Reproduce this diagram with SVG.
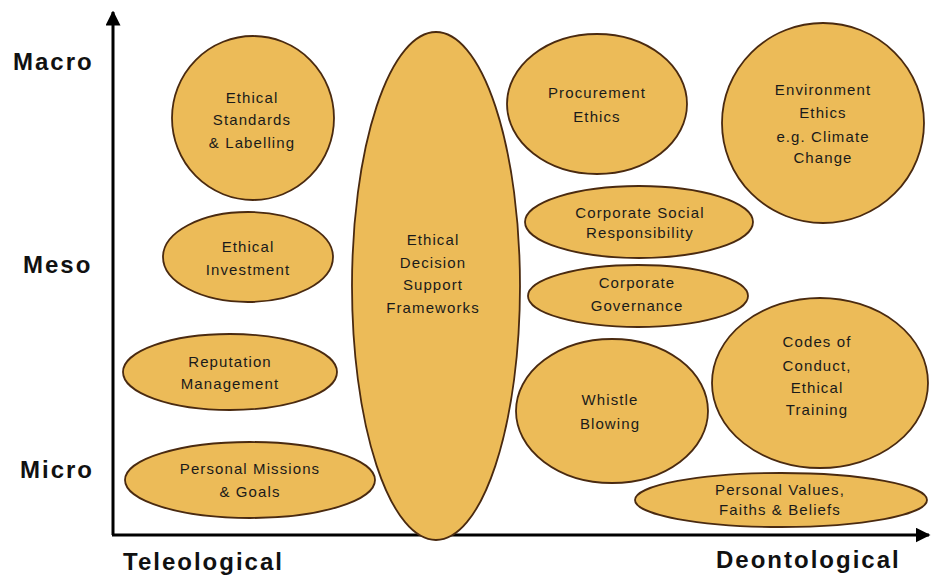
<svg xmlns="http://www.w3.org/2000/svg" width="931" height="576" viewBox="0 0 931 576">
<style>
.n ellipse{fill:#ECBB58;stroke:#4a2a10;stroke-width:1.8}
.n text{font-family:"Liberation Sans",Arial,sans-serif;font-size:15px;fill:#1a1a1a;text-anchor:middle;letter-spacing:1.1px}
.ax{font-family:"Liberation Sans",Arial,sans-serif;font-size:24px;font-weight:bold;fill:#111;letter-spacing:2px}
.axis{stroke:#000;stroke-width:3;fill:none}
</style>
<defs>
<marker id="ah" viewBox="0 0 10 10" refX="9" refY="5" markerWidth="5" markerHeight="5" orient="auto" markerUnits="strokeWidth">
<path d="M0,0 L10,5 L0,10 z" fill="#000"/>
</marker>
</defs>
<rect width="931" height="576" fill="#fff"/>
<g id="connectors">
<path class="axis" d="M113,535 L113,12" marker-end="url(#ah)"/>
<path class="axis" d="M112,535 L929,535" marker-end="url(#ah)"/>
</g>
<g id="labels">
<text class="ax" x="13" y="70">Macro</text>
<text class="ax" x="23" y="273">Meso</text>
<text class="ax" x="20" y="478">Micro</text>
<text class="ax" x="123" y="570">Teleological</text>
<text class="ax" x="716" y="568">Deontological</text>
</g>
<g id="n1" class="n"><ellipse cx="253" cy="118" rx="81" ry="82"/>
<text x="252" y="103">Ethical</text><text x="252" y="125">Standards</text><text x="252" y="148">&amp; Labelling</text></g>
<g id="n2" class="n"><ellipse cx="248" cy="257" rx="85" ry="45"/>
<text x="248" y="252">Ethical</text><text x="248" y="275">Investment</text></g>
<g id="n3" class="n"><ellipse cx="230" cy="372" rx="107" ry="38"/>
<text x="230" y="367">Reputation</text><text x="230" y="389">Management</text></g>
<g id="n4" class="n"><ellipse cx="250" cy="480" rx="125" ry="38"/>
<text x="250" y="474">Personal Missions</text><text x="250" y="497">&amp; Goals</text></g>
<g id="n5" class="n"><ellipse cx="436" cy="286" rx="84" ry="254"/>
<text x="433" y="245">Ethical</text><text x="433" y="268">Decision</text><text x="433" y="290">Support</text><text x="433" y="313">Frameworks</text></g>
<g id="n6" class="n"><ellipse cx="597" cy="104" rx="90" ry="70"/>
<text x="597" y="98">Procurement</text><text x="597" y="122">Ethics</text></g>
<g id="n7" class="n"><ellipse cx="823" cy="123" rx="101" ry="100"/>
<text x="823" y="95">Environment</text><text x="823" y="118">Ethics</text><text x="823" y="142">e.g. Climate</text><text x="823" y="163">Change</text></g>
<g id="n8" class="n"><ellipse cx="639" cy="222" rx="114" ry="36"/>
<text x="640" y="218">Corporate Social</text><text x="640" y="238">Responsibility</text></g>
<g id="n9" class="n"><ellipse cx="638" cy="296" rx="110" ry="31"/>
<text x="637" y="288">Corporate</text><text x="637" y="311">Governance</text></g>
<g id="n10" class="n"><ellipse cx="612" cy="411" rx="96" ry="72"/>
<text x="610" y="405">Whistle</text><text x="610" y="429">Blowing</text></g>
<g id="n11" class="n"><ellipse cx="820" cy="383" rx="108" ry="85"/>
<text x="817" y="347">Codes of</text><text x="817" y="371">Conduct,</text><text x="817" y="393">Ethical</text><text x="817" y="415">Training</text></g>
<g id="n12" class="n"><ellipse cx="781" cy="500" rx="146" ry="27"/>
<text x="780" y="495">Personal Values,</text><text x="780" y="515">Faiths &amp; Beliefs</text></g>
</svg>
